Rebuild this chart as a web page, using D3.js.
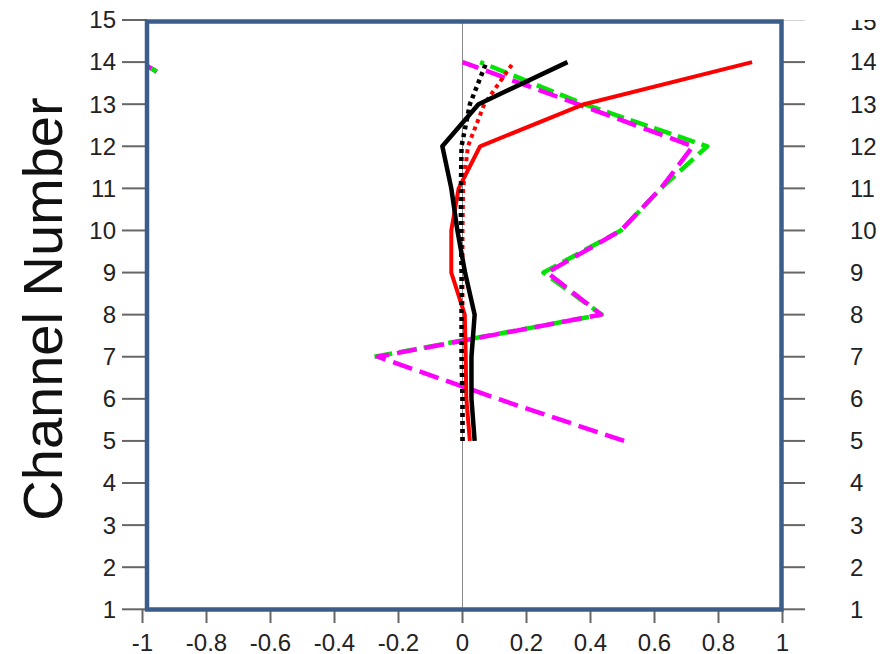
<!DOCTYPE html>
<html><head><meta charset="utf-8">
<script src="https://cdn.jsdelivr.net/npm/d3@7"></script>
<style>html,body{margin:0;padding:0;background:#fff;}svg{display:block;font-family:"Liberation Sans",Arial,Helvetica,sans-serif;}</style>
</head><body>
<svg id="c" width="891" height="654"></svg>
<script>
const channels = [5,6,7,8,9,10,11,12,13,14];
const greenChannels = [7,8,9,10,11,12,13,14];
const blackSolid  = [0.038, 0.028, 0.028, 0.038, 0.008, -0.016, -0.035, -0.063, 0.05, 0.328];
const blackDotted = [0.0, 0.0, -0.003, -0.003, -0.003, -0.005, -0.005, -0.003, 0.023, 0.075];
const redSolid    = [0.023, 0.012, 0.01, 0.007, -0.035, -0.035, -0.012, 0.055, 0.38, 0.905];
const redDotted   = [0.0, 0.0, 0.0, 0.0, 0.0, 0.0, 0.002, 0.017, 0.068, 0.16];
const greenDashed = [-0.275, 0.435, 0.253, 0.495, 0.62, 0.765, 0.38, 0.055];
const magentaDashed = [0.505, 0.11, -0.265, 0.433, 0.265, 0.495, 0.62, 0.72, 0.36, 0.0];
const strayX = [-1.01, -0.955];
const strayY = [14.02, 13.77];
const xTicks = [-1,-0.8,-0.6,-0.4,-0.2,0,0.2,0.4,0.6,0.8,1];
const yTicks = [1,2,3,4,5,6,7,8,9,10,11,12,13,14,15];
const yTitle = "Channel Number";

const svg = d3.select("#c");
const x = d3.scaleLinear().domain([-1,1]).range([142.5, 782.5]);
const y = d3.scaleLinear().domain([1,15]).range([609.3, 20]);
const fx0 = 147, fx1 = 781.5, fy0 = 21.5, fy1 = 609.5;

svg.append("defs").append("clipPath").attr("id","plot")
  .append("rect").attr("x",fx0).attr("y",fy0).attr("width",fx1-fx0).attr("height",fy1-fy0);
svg.select("defs").append("clipPath").attr("id","rtop")
  .append("rect").attr("x",780).attr("y",20).attr("width",111).attr("height",634);

// y title
svg.append("text").attr("transform","translate(62,309) rotate(-90)")
  .attr("text-anchor","middle").attr("font-size",56).attr("fill","#111").text(yTitle);

// left axis
const left = svg.append("g");
left.selectAll("line").data(yTicks).join("line")
  .attr("x1",122).attr("x2",fx0).attr("y1",d=>y(d)).attr("y2",d=>y(d))
  .attr("stroke","#666").attr("stroke-width",2);
left.selectAll("text").data(yTicks).join("text")
  .attr("x",116).attr("y",d=>y(d)).attr("dy","0.35em").attr("text-anchor","end")
  .attr("font-size",24).attr("fill","#222").text(d=>d);

// right axis
const right = svg.append("g").attr("clip-path","url(#rtop)");
right.selectAll("line").data(yTicks).join("line")
  .attr("x1",fx1).attr("x2",805).attr("y1",d=>y(d)).attr("y2",d=>y(d))
  .attr("stroke",d=>d===15?"#bbb":"#666").attr("stroke-width",d=>d===15?1.2:2);
right.selectAll("text").data(yTicks).join("text")
  .attr("x",850).attr("y",d=>y(d)+ (d===15?1.5:0)).attr("dy","0.35em").attr("text-anchor","start")
  .attr("font-size",24).attr("fill","#222").text(d=>d);

// bottom axis
const bottom = svg.append("g");
bottom.selectAll("line").data(xTicks).join("line")
  .attr("x1",d=>x(d)).attr("x2",d=>x(d)).attr("y1",fy1).attr("y2",623)
  .attr("stroke","#666").attr("stroke-width",2);
bottom.selectAll("text").data(xTicks).join("text")
  .attr("x",d=>x(d)).attr("y",650.5).attr("text-anchor","middle")
  .attr("font-size",24).attr("fill","#222").text(d=>d);

// zero line
svg.append("line").attr("x1",x(0)).attr("x2",x(0)).attr("y1",fy0).attr("y2",fy1)
  .attr("stroke","#888").attr("stroke-width",1);

const plot = svg.append("g").attr("clip-path","url(#plot)");
const line = d3.line().x(d=>x(d[0])).y(d=>y(d[1]));
function draw(xs, ys, color, dash, w){
  plot.append("path").datum(xs.map((v,i)=>[v, ys[i]]))
    .attr("d",line).attr("fill","none").attr("stroke",color)
    .attr("stroke-width",w).attr("stroke-dasharray",dash)
    .attr("stroke-linejoin","round");
}
draw(greenDashed, greenChannels, "#00e600", "18,7", 4.5);
draw(magentaDashed, channels, "#ff00ff", "20,8", 4.5);
draw(redSolid, channels, "#ff0000", null, 4);
draw(redDotted, channels, "#ff0000", "4,4", 4);
draw(blackDotted, channels, "#000", "4,4", 4.5);
draw(blackSolid, channels, "#000", null, 4.5);
// stray segment at top left
draw(strayX, strayY, "#ff00ff", null, 4.5);
draw(strayX, strayY, "#00e600", "8,6,6,40", 4.5);

// frame
svg.append("rect").attr("x",fx0).attr("y",fy0).attr("width",fx1-fx0).attr("height",fy1-fy0)
  .attr("fill","none").attr("stroke","#3a5d8a").attr("stroke-width",4.5);
</script>
</body></html>
